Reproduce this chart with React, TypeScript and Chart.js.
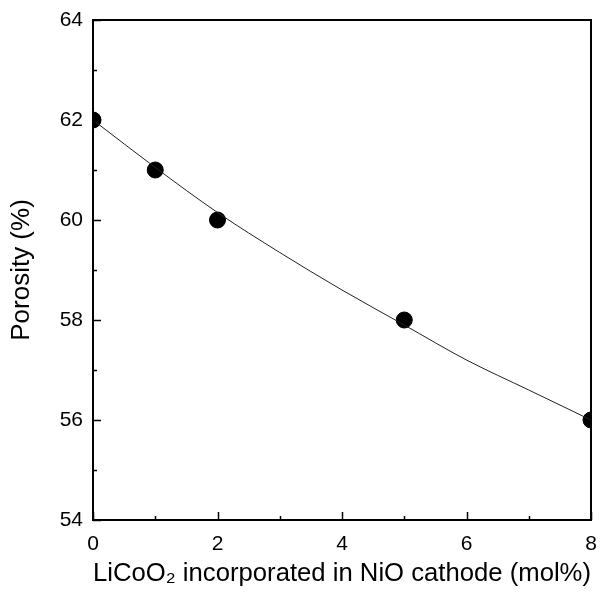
import React, { useEffect, useRef } from "react";
import { Chart, registerables } from "chart.js";

Chart.register(...registerables);

// Measured points
const xValues = [0, 1, 2, 5, 8];
const porosity = [62, 61, 60, 58, 56];

// Fitted curve
const fitX = [0, 1, 2, 3, 4, 5, 6, 7, 8];
const fitY = [62, 61.05, 60.15, 59.35, 58.6, 57.9, 57.2, 56.6, 56.0];

const xMajorTicks = [0, 2, 4, 6, 8];
const xMinorTicks = [1, 3, 5, 7];
const yMajorTicks = [54, 56, 58, 60, 62, 64];
const yMinorTicks = [55, 57, 59, 61, 63];

const FONT = "'Liberation Sans', Arial, Helvetica, sans-serif";

const framePlugin = {
  id: "frame",
  afterDatasetsDraw(chart: any) {
    const { ctx, chartArea, scales } = chart;
    const { left, right, top, bottom } = chartArea;
    const xs = scales.x;
    const ys = scales.y;
    ctx.save();
    ctx.strokeStyle = "#000";
    ctx.lineWidth = 2;
    ctx.beginPath();
    ctx.rect(left, top, right - left, bottom - top);
    ctx.stroke();
    ctx.lineWidth = 1.5;
    ctx.beginPath();
    const major = 8;
    const minor = 4;
    for (const v of xMajorTicks) {
      const px = Math.round(xs.getPixelForValue(v)) + 0.5;
      ctx.moveTo(px, bottom);
      ctx.lineTo(px, bottom - major);
    }
    for (const v of xMinorTicks) {
      const px = Math.round(xs.getPixelForValue(v)) + 0.5;
      ctx.moveTo(px, bottom);
      ctx.lineTo(px, bottom - minor);
    }
    for (const v of yMajorTicks) {
      const py = Math.round(ys.getPixelForValue(v)) + 0.5;
      ctx.moveTo(left, py);
      ctx.lineTo(left + major, py);
    }
    for (const v of yMinorTicks) {
      const py = Math.round(ys.getPixelForValue(v)) + 0.5;
      ctx.moveTo(left, py);
      ctx.lineTo(left + minor, py);
    }
    ctx.stroke();
    ctx.restore();
  },
};

export default function App() {
  const ref = useRef<HTMLCanvasElement>(null);
  useEffect(() => {
    if (!ref.current) return;
    const chart = new Chart(ref.current, {
      type: "scatter",
      data: {
        datasets: [
          {
            type: "line",
            label: "fit",
            data: fitX.map((x, i) => ({ x, y: fitY[i] })),
            borderColor: "#222",
            borderWidth: 1,
            pointRadius: 0,
            cubicInterpolationMode: "monotone",
            fill: false,
            clip: 0,
          } as any,
          {
            label: "Porosity",
            data: xValues.map((x, i) => ({ x, y: porosity[i] })),
            backgroundColor: "#000",
            borderColor: "#000",
            pointRadius: 8,
            pointHoverRadius: 8,
            clip: 0,
          } as any,
        ],
      },
      options: {
        animation: false,
        responsive: false,
        maintainAspectRatio: false,
        layout: { padding: { top: 20, right: 7, left: 0, bottom: 0 } },
        plugins: { legend: { display: false }, tooltip: { enabled: false } },
        scales: {
          x: {
            type: "linear",
            min: 0,
            max: 8,
            afterFit(scale: any) {
              scale.height = 78;
              scale.paddingLeft = 0;
              scale.paddingRight = 0;
            },
            grid: { display: false, drawTicks: false },
            border: { display: false },
            ticks: {
              stepSize: 2,
              padding: 12,
              color: "#000",
              font: { family: FONT, size: 21 },
            },
            title: {
              display: true,
              text: "LiCoO₂ incorporated in NiO cathode (mol%)",
              color: "#000",
              font: { family: FONT, size: 26 },
              padding: { top: 10, bottom: 9 },
            },
          },
          y: {
            type: "linear",
            min: 54,
            max: 64,
            afterFit(scale: any) {
              scale.width = 93;
              scale.paddingTop = 0;
              scale.paddingBottom = 0;
            },
            grid: { display: false, drawTicks: false },
            border: { display: false },
            ticks: {
              stepSize: 2,
              padding: 10,
              color: "#000",
              font: { family: FONT, size: 21 },
            },
            title: {
              display: true,
              text: "Porosity (%)",
              color: "#000",
              font: { family: FONT, size: 26 },
              padding: { top: 6, bottom: 10 },
            },
          },
        },
      },
      plugins: [framePlugin],
    });
    return () => chart.destroy();
  }, []);
  return (
    <div style={{ position: "absolute", left: 0, top: 0, width: 600, height: 598, background: "#fff" }}>
      <canvas ref={ref} width={600} height={598} style={{ width: 600, height: 598 }} />
    </div>
  );
}
